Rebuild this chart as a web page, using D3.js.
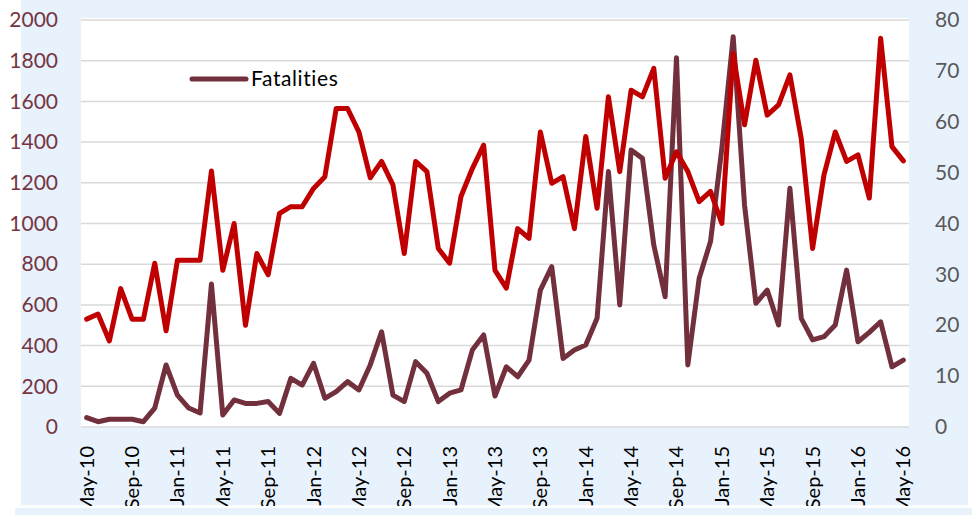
<!DOCTYPE html>
<html>
<head>
<meta charset="utf-8">
<script src="https://cdn.jsdelivr.net/npm/d3@7"></script>
<style>
  html, body { margin: 0; padding: 0; background: #ffffff; }
  svg { display: block; font-family: Lato, "Open Sans", sans-serif; }
</style>
</head>
<body>
<svg id="chart" width="972" height="515"></svg>
<script>
// Monthly, May-10 .. May-16
const months = [
  "May-10", "Jun-10", "Jul-10", "Aug-10", "Sep-10", "Oct-10", "Nov-10", "Dec-10",
  "Jan-11", "Feb-11", "Mar-11", "Apr-11", "May-11", "Jun-11", "Jul-11", "Aug-11",
  "Sep-11", "Oct-11", "Nov-11", "Dec-11", "Jan-12", "Feb-12", "Mar-12", "Apr-12",
  "May-12", "Jun-12", "Jul-12", "Aug-12", "Sep-12", "Oct-12", "Nov-12", "Dec-12",
  "Jan-13", "Feb-13", "Mar-13", "Apr-13", "May-13", "Jun-13", "Jul-13", "Aug-13",
  "Sep-13", "Oct-13", "Nov-13", "Dec-13", "Jan-14", "Feb-14", "Mar-14", "Apr-14",
  "May-14", "Jun-14", "Jul-14", "Aug-14", "Sep-14", "Oct-14", "Nov-14", "Dec-14",
  "Jan-15", "Feb-15", "Mar-15", "Apr-15", "May-15", "Jun-15", "Jul-15", "Aug-15",
  "Sep-15", "Oct-15", "Nov-15", "Dec-15", "Jan-16", "Feb-16", "Mar-16", "Apr-16",
  "May-16"
];

// left axis
const fatalities = [
  46, 26, 38, 38, 38, 26, 93, 305, 157, 93, 69, 703,
  59, 133, 116, 116, 125, 67, 239, 206, 313, 141, 174, 223,
  182, 305, 468, 157, 125, 321, 264, 125, 166, 182, 378, 452,
  152, 296, 247, 329, 673, 788, 337, 378, 403, 534, 1255, 600,
  1361, 1320, 894, 640, 1815, 305, 731, 911, 1370, 1918, 1091, 608,
  673, 501, 1173, 534, 428, 444, 501, 771, 419, 465, 517, 296, 329
];

// right axis (no legend entry)
const incidents = [
  21.2, 22.2, 16.9, 27.2, 21.2, 21.2, 32.2, 18.9, 32.8, 32.8, 32.8, 50.3,
  30.8, 40, 20, 34.1, 29.9, 42, 43.3, 43.3, 46.9, 49.2, 62.6, 62.6,
  58, 49, 52.2, 47.6, 34.1, 52.2, 50.2, 35.1, 32.2, 45.3, 50.8, 55.4,
  30.8, 27.3, 39, 37.1, 58, 47.9, 49.2, 39, 57.1, 43, 64.9, 50.2,
  66.2, 64.9, 70.5, 48.9, 54.1, 50.2, 44.3, 46.3, 40, 73.4, 59.4, 72.1,
  61.3, 63.3, 69.2, 56.7, 35.1, 49.5, 58, 52.2, 53.5, 45, 76.4, 55.1, 52.3
];

const leftTicks = [0, 200, 400, 600, 800, 1000, 1200, 1400, 1600, 1800, 2000];
const rightTicks = [0, 10, 20, 30, 40, 50, 60, 70, 80];

const svg = d3.select("#chart");
const plot = { left: 81, right: 909, top: 20, bottom: 427 };

// background panels
svg.append("rect").attr("x", 21).attr("y", 0).attr("width", 947).attr("height", 505)
  .attr("fill", "#e8f2fc");
svg.append("rect").attr("x", 15).attr("y", 508).attr("width", 957).attr("height", 7)
  .attr("fill", "#e8f2fc");
svg.append("rect").attr("x", plot.left).attr("y", plot.top - 2)
  .attr("width", plot.right - plot.left).attr("height", plot.bottom - plot.top + 3)
  .attr("fill", "#ffffff");

const x = d3.scaleBand().domain(months).range([plot.left, plot.right]);
const xc = d => x(d) + x.bandwidth() / 2;
const yLeft = d3.scaleLinear().domain([0, 2000]).range([plot.bottom, plot.top]);
const yRight = d3.scaleLinear().domain([0, 80]).range([plot.bottom, plot.top]);

// gridlines
svg.append("g").selectAll("line").data(leftTicks).enter().append("line")
  .attr("x1", plot.left).attr("x2", plot.right)
  .attr("y1", d => yLeft(d)).attr("y2", d => yLeft(d))
  .attr("stroke", "#d9d9d9").attr("stroke-width", 1.5);

// left axis
const gl = svg.append("g").attr("transform", `translate(${plot.left}, 0)`)
  .call(d3.axisLeft(yLeft).tickValues(leftTicks).tickFormat(d3.format("d"))
    .tickSize(0).tickPadding(23));
gl.select(".domain").remove();
gl.selectAll("text").attr("font-size", 21).attr("fill", "#763543")
  .attr("font-family", "Lato, 'Open Sans', sans-serif");

// right axis
const gr = svg.append("g").attr("transform", `translate(${plot.right}, 0)`)
  .call(d3.axisRight(yRight).tickValues(rightTicks).tickSize(0).tickPadding(26));
gr.select(".domain").remove();
gr.selectAll("text").attr("font-size", 21).attr("fill", "#595959")
  .attr("font-family", "Lato, 'Open Sans', sans-serif");

// x labels, every 4th month, clipped at the panel bottom
svg.append("clipPath").attr("id", "labelClip").append("rect")
  .attr("x", 0).attr("y", 0).attr("width", 972).attr("height", 506);
const labelMonths = months.filter((m, i) => i % 4 === 0);
svg.append("g").attr("clip-path", "url(#labelClip)")
  .selectAll("text").data(labelMonths).enter().append("text")
  .attr("transform", d => `translate(${xc(d)}, 446) rotate(-90)`)
  .attr("dy", "0.35em")
  .attr("text-anchor", "end")
  .attr("font-size", 20)
  .attr("fill", "#000000")
  .text(d => d);

// lines
const fatalLine = d3.line().x((d, i) => xc(months[i])).y(d => yLeft(d));
const incidentLine = d3.line().x((d, i) => xc(months[i])).y(d => yRight(d));

svg.append("path").datum(fatalities)
  .attr("d", fatalLine)
  .attr("fill", "none").attr("stroke", "#722f3c").attr("stroke-width", 5)
  .attr("stroke-linejoin", "round").attr("stroke-linecap", "round");

svg.append("path").datum(incidents)
  .attr("d", incidentLine)
  .attr("fill", "none").attr("stroke", "#c00000").attr("stroke-width", 5)
  .attr("stroke-linejoin", "round").attr("stroke-linecap", "round");

// legend
const legend = svg.append("g").attr("transform", "translate(192, 79)");
legend.append("line").attr("x1", 0).attr("x2", 54).attr("y1", 0).attr("y2", 0)
  .attr("stroke", "#722f3c").attr("stroke-width", 5).attr("stroke-linecap", "round");
legend.append("text").attr("x", 59).attr("y", 0).attr("dy", "0.35em")
  .attr("font-size", 21).attr("letter-spacing", 0.6).attr("fill", "#000000").text("Fatalities");
</script>
</body>
</html>
